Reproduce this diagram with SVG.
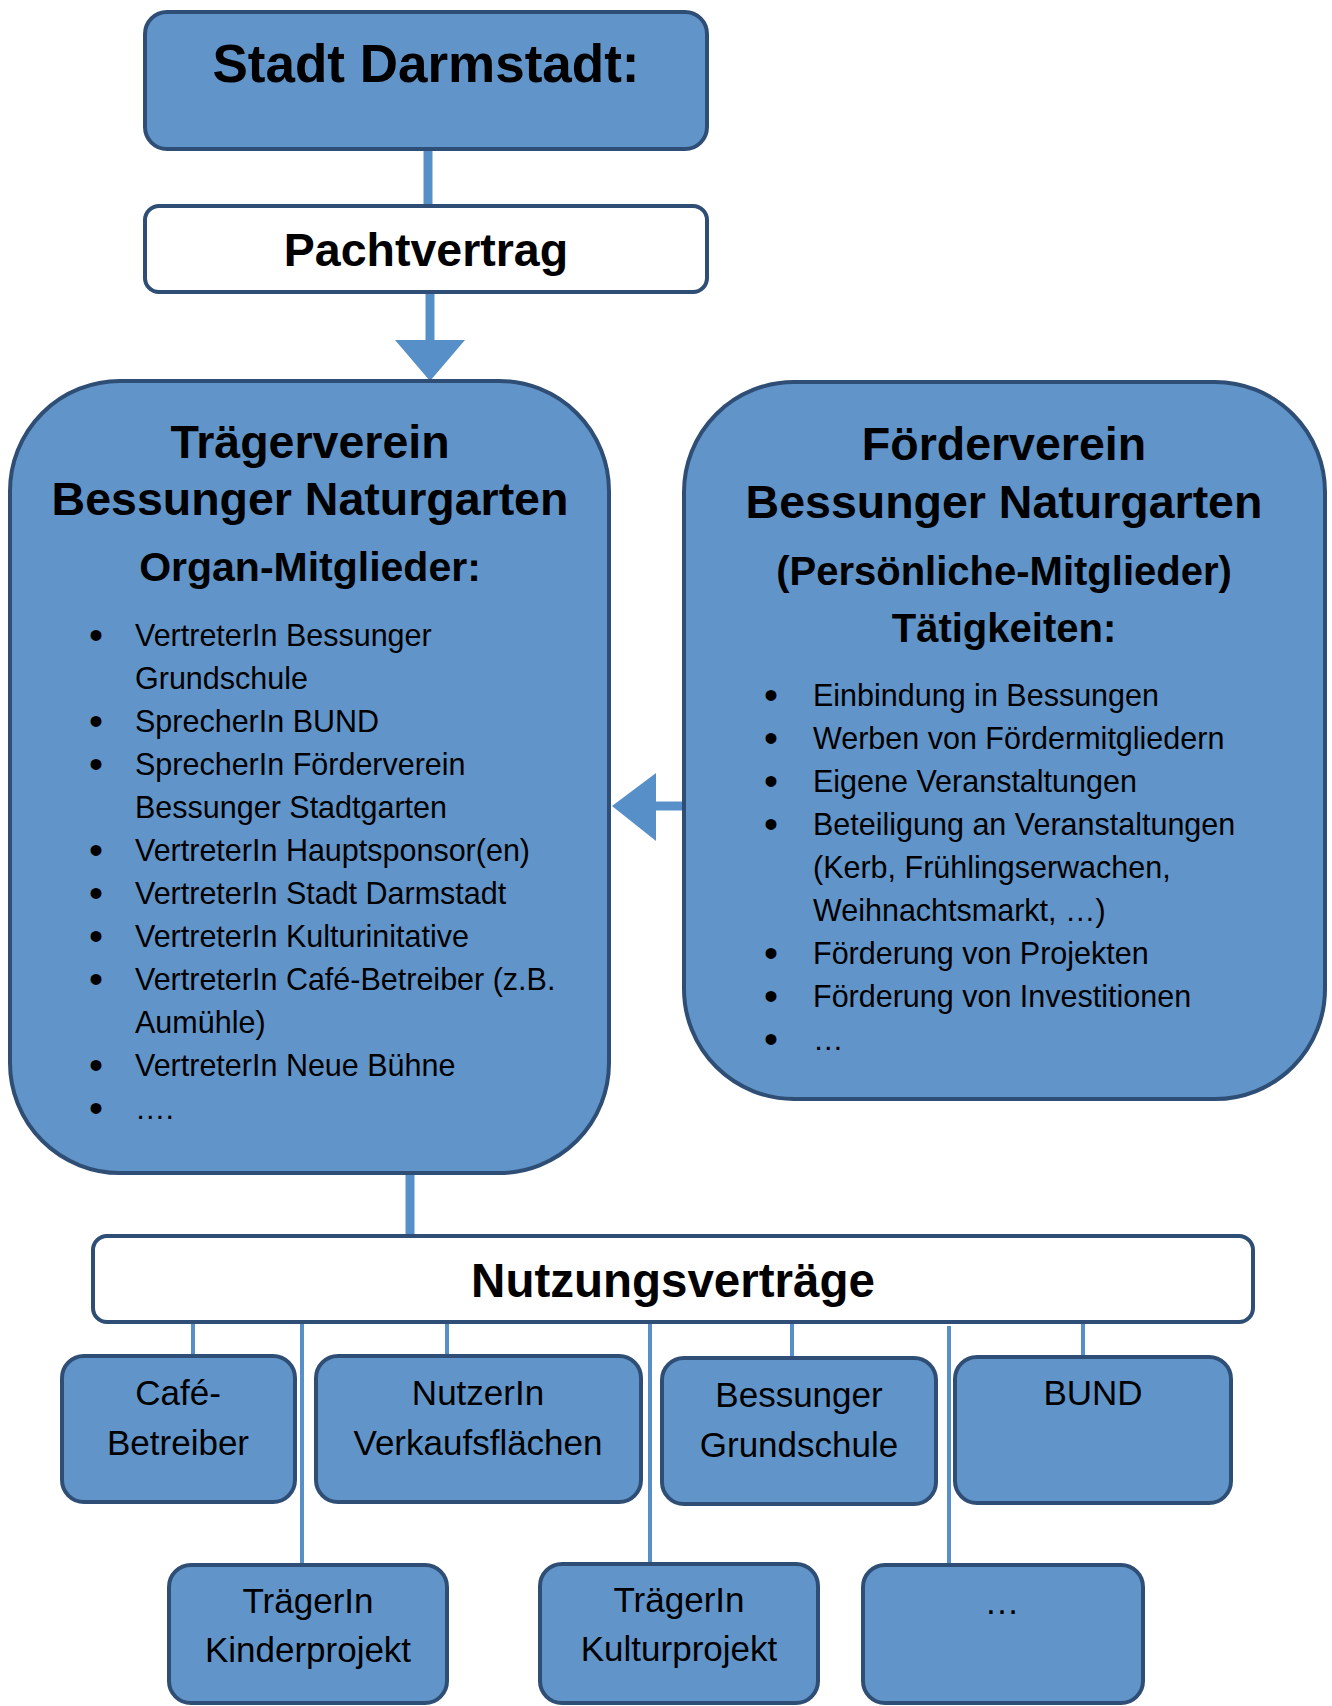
<svg xmlns="http://www.w3.org/2000/svg" width="1332" height="1706" viewBox="0 0 1332 1706">
<defs>
<style>
.box{fill:#6194c8;stroke:#2f4e75;stroke-width:4}
.wbox{fill:#ffffff;stroke:#2f4e75;stroke-width:4}
.conThick{stroke:#578fc9;stroke-width:9;fill:none}
.conThin{stroke:#578fc9;stroke-width:4;fill:none}
.head{fill:#578fc9;stroke:none}
.t{font-family:"Liberation Sans",Arial,sans-serif;fill:#000}
.b{font-weight:bold}
.c{text-anchor:middle}
.li{font-size:30.5px}
.bu{font-size:40px;text-anchor:middle}
.nd{font-size:35px}
</style>
</defs>
<rect width="1332" height="1706" fill="#ffffff"/>

<g id="connectors">
<line class="conThick" x1="428" y1="149" x2="428" y2="206"/>
<line class="conThick" x1="430" y1="292" x2="430" y2="342"/>
<polygon class="head" points="395,340 465,340 430,381"/>
<line class="conThick" x1="683" y1="806" x2="652" y2="806"/>
<polygon class="head" points="656,773 656,841 612,806"/>
<line class="conThick" x1="410" y1="1173" x2="410" y2="1236"/>
<line class="conThin" x1="193" y1="1322" x2="193" y2="1356"/>
<line class="conThin" x1="302" y1="1322" x2="302" y2="1565"/>
<line class="conThin" x1="447" y1="1322" x2="447" y2="1356"/>
<line class="conThin" x1="650" y1="1322" x2="650" y2="1564"/>
<line class="conThin" x1="792" y1="1322" x2="792" y2="1358"/>
<line class="conThin" x1="949" y1="1326" x2="949" y2="1565"/>
<line class="conThin" x1="1083" y1="1322" x2="1083" y2="1357"/>
</g>

<g id="stadt">
<rect class="box" x="145" y="12" width="562" height="137" rx="22"/>
<text class="t b c" x="426" y="82" font-size="53">Stadt Darmstadt:</text>
</g>

<g id="pachtvertrag">
<rect class="wbox" x="145" y="206" width="562" height="86" rx="14"/>
<text class="t b c" x="426" y="266" font-size="46.5">Pachtvertrag</text>
</g>

<g id="traegerverein">
<rect class="box" x="10" y="381" width="599" height="792" rx="110"/>
<text class="t b c" x="310" y="458" font-size="46.5">Trägerverein</text>
<text class="t b c" x="310" y="515" font-size="46.5">Bessunger Naturgarten</text>
<text class="t b c" x="310" y="581" font-size="41">Organ-Mitglieder:</text>
<g class="t">
<text x="96" y="649" class="bu">•</text>
<text x="96" y="735" class="bu">•</text>
<text x="96" y="778" class="bu">•</text>
<text x="96" y="864" class="bu">•</text>
<text x="96" y="907" class="bu">•</text>
<text x="96" y="950" class="bu">•</text>
<text x="96" y="993" class="bu">•</text>
<text x="96" y="1079" class="bu">•</text>
<text x="96" y="1122" class="bu">•</text>
</g>
<g class="t li">
<text x="135" y="646">VertreterIn Bessunger</text>
<text x="135" y="689">Grundschule</text>
<text x="135" y="732">SprecherIn BUND</text>
<text x="135" y="775">SprecherIn Förderverein</text>
<text x="135" y="818">Bessunger Stadtgarten</text>
<text x="135" y="861">VertreterIn Hauptsponsor(en)</text>
<text x="135" y="904">VertreterIn Stadt Darmstadt</text>
<text x="135" y="947">VertreterIn Kulturinitative</text>
<text x="135" y="990">VertreterIn Café-Betreiber (z.B.</text>
<text x="135" y="1033">Aumühle)</text>
<text x="135" y="1076">VertreterIn Neue Bühne</text>
<text x="135" y="1119">….</text>
</g>
</g>

<g id="foerderverein">
<rect class="box" x="684" y="382" width="641" height="717" rx="110"/>
<text class="t b c" x="1004" y="460" font-size="46.5">Förderverein</text>
<text class="t b c" x="1004" y="518" font-size="46.5">Bessunger Naturgarten</text>
<text class="t b c" x="1004" y="585" font-size="40">(Persönliche-Mitglieder)</text>
<text class="t b c" x="1004" y="642" font-size="40">Tätigkeiten:</text>
<g class="t">
<text x="771" y="709" class="bu">•</text>
<text x="771" y="752" class="bu">•</text>
<text x="771" y="795" class="bu">•</text>
<text x="771" y="838" class="bu">•</text>
<text x="771" y="967" class="bu">•</text>
<text x="771" y="1010" class="bu">•</text>
<text x="771" y="1053" class="bu">•</text>
</g>
<g class="t li">
<text x="813" y="706">Einbindung in Bessungen</text>
<text x="813" y="749">Werben von Fördermitgliedern</text>
<text x="813" y="792">Eigene Veranstaltungen</text>
<text x="813" y="835">Beteiligung an Veranstaltungen</text>
<text x="813" y="878">(Kerb, Frühlingserwachen,</text>
<text x="813" y="921">Weihnachtsmarkt, …)</text>
<text x="813" y="964">Förderung von Projekten</text>
<text x="813" y="1007">Förderung von Investitionen</text>
<text x="813" y="1050">…</text>
</g>
</g>

<g id="nutzungsvertraege">
<rect class="wbox" x="93" y="1236" width="1160" height="86" rx="14"/>
<text class="t b c" x="673" y="1297" font-size="47.5">Nutzungsverträge</text>
</g>

<g id="cafe">
<rect class="box" x="62" y="1356" width="233" height="146" rx="22"/>
<text class="t c nd" x="178" y="1405">Café-</text>
<text class="t c nd" x="178" y="1455">Betreiber</text>
</g>

<g id="nutzer">
<rect class="box" x="316" y="1356" width="325" height="146" rx="22"/>
<text class="t c nd" x="478" y="1405">NutzerIn</text>
<text class="t c nd" x="478" y="1455">Verkaufsflächen</text>
</g>

<g id="grundschule">
<rect class="box" x="662" y="1358" width="274" height="146" rx="22"/>
<text class="t c nd" x="799" y="1407">Bessunger</text>
<text class="t c nd" x="799" y="1457">Grundschule</text>
</g>

<g id="bund">
<rect class="box" x="955" y="1357" width="276" height="146" rx="22"/>
<text class="t c nd" x="1093" y="1405">BUND</text>
</g>

<g id="kinderprojekt">
<rect class="box" x="169" y="1565" width="278" height="138" rx="22"/>
<text class="t c nd" x="308" y="1613">TrägerIn</text>
<text class="t c nd" x="308" y="1662">Kinderprojekt</text>
</g>

<g id="kulturprojekt">
<rect class="box" x="540" y="1564" width="278" height="139" rx="22"/>
<text class="t c nd" x="679" y="1612">TrägerIn</text>
<text class="t c nd" x="679" y="1661">Kulturprojekt</text>
</g>

<g id="weitere">
<rect class="box" x="863" y="1565" width="280" height="138" rx="22"/>
<text class="t c nd" x="1002" y="1614">…</text>
</g>
</svg>
